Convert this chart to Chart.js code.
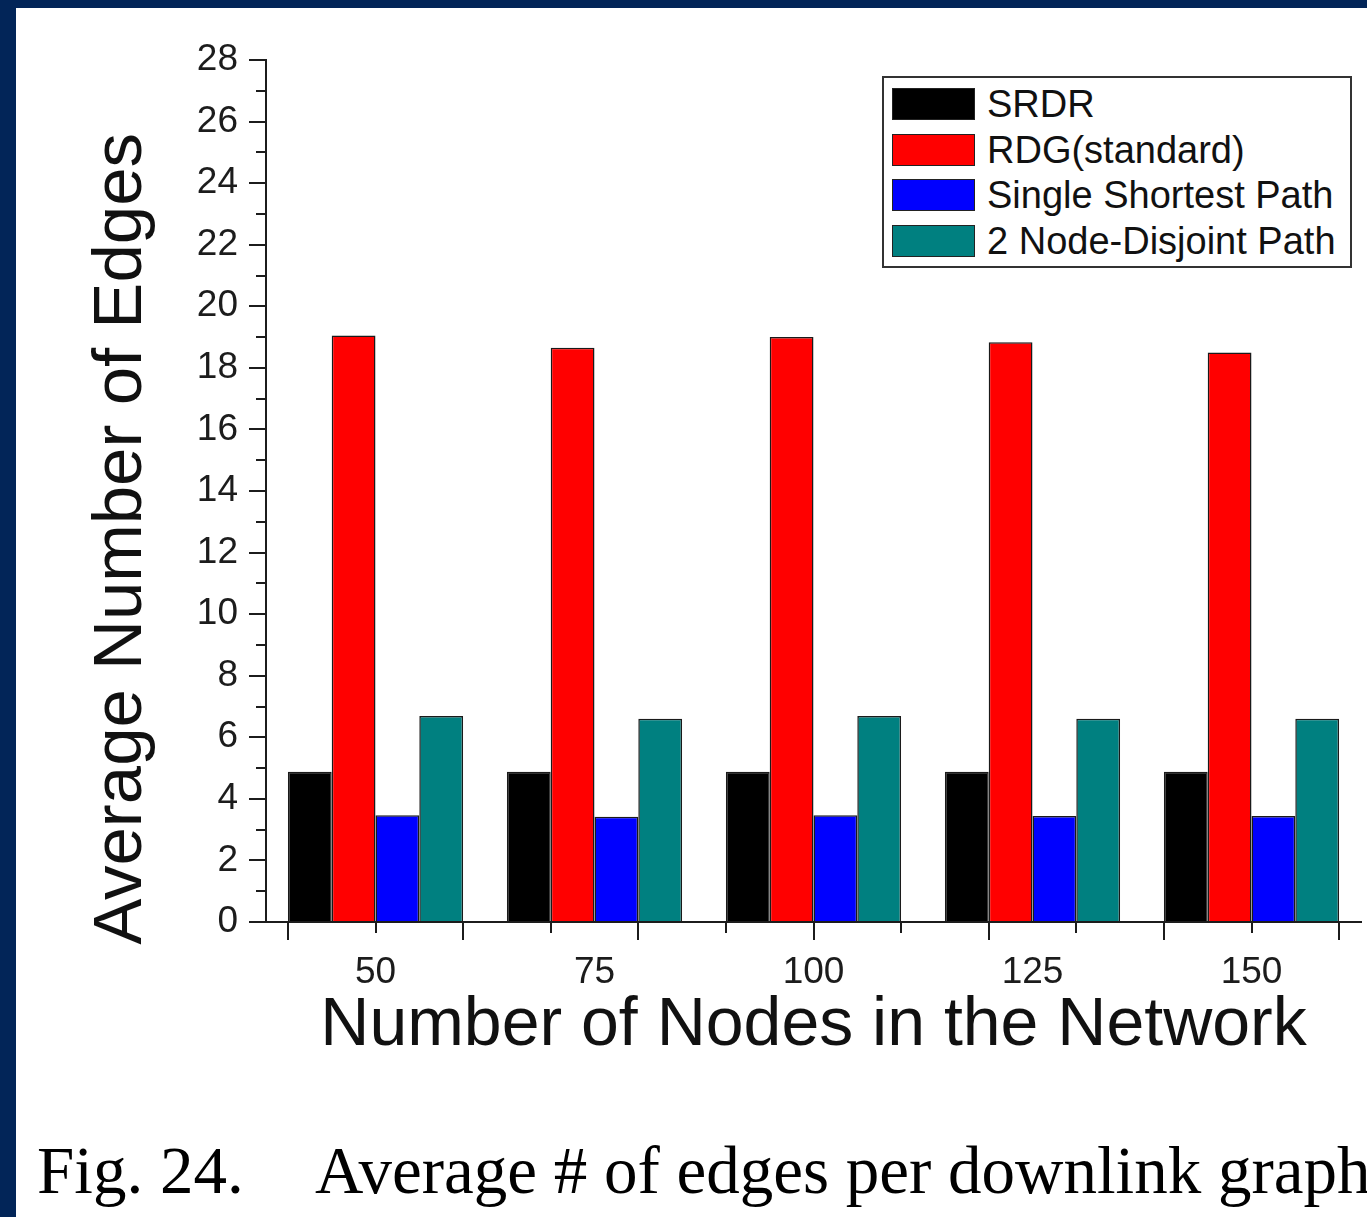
<!DOCTYPE html>
<html>
<head>
<meta charset="utf-8">
<title>Average number of edges per downlink graph</title>
<script src="https://cdn.jsdelivr.net/npm/chart.js@4/dist/chart.umd.min.js"></script>
<style>
  html, body { margin: 0; padding: 0; }
  body {
    width: 1367px; height: 1217px; overflow: hidden;
    background: #022558; position: relative;
  }
  #page {
    position: absolute; left: 16px; top: 8px; width: 1351px; height: 1209px;
    background: #ffffff; overflow: hidden;
  }
  #wrap { position: absolute; left: 0; top: 0; width: 1351px; height: 1080px; }
  #legend {
    position: absolute; left: 866px; top: 68px; width: 466px; height: 185px;
    border: 2px solid #333; background: #fff;
    font-family: 'Liberation Sans', Arial, sans-serif; font-size: 38px; color: #111;
    padding-top: 3px; box-sizing: content-box;
  }
  #legend .row { display: flex; align-items: center; height: 45.7px; }
  #legend .sw {
    width: 81px; height: 30px; margin-left: 8px; margin-right: 12px;
    border: 1px solid #222; flex: none;
  }
  #legend .lbl { white-space: nowrap; line-height: 1; }
  #caption {
    position: absolute; left: 21px; top: 1129px; white-space: nowrap;
    font-family: 'Liberation Serif', 'Times New Roman', serif; font-size: 67px;
    line-height: 67px; color: #000;
  }
  #caption .num { display: inline-block; width: 278px; }
</style>
</head>
<body>
<div id="page">
  <div id="wrap"><canvas id="chart"></canvas></div>
  <div id="legend"></div>
  <div id="caption"><span class="num">Fig. 24.</span>Average # of edges per downlink graph</div>
</div>
<script>
// Network sizes (x categories) and per-method average edge counts
const nodeCounts = [50, 75, 100, 125, 150];
const seriesNames = ['SRDR', 'RDG(standard)', 'Single Shortest Path', '2 Node-Disjoint Path'];
const srdrEdges = [4.88, 4.88, 4.88, 4.88, 4.88];
const rdgStandardEdges = [19.05, 18.65, 19.0, 18.83, 18.5];
const singleShortestEdges = [3.47, 3.42, 3.47, 3.44, 3.44];
const nodeDisjointEdges = [6.69, 6.6, 6.69, 6.6, 6.6];
const seriesColors = ['#000000', '#ff0000', '#0000ff', '#008080'];

// Axis ranges and tick spacing
const xRange = [37.5, 162.5];
const xMajorStep = 20;
const xMinorStep = 10;
const yRange = [0, 28];
const yMajorStep = 2;
const yMinorStep = 1;

const SANS = "'Liberation Sans', Arial, sans-serif";
const INK = '#1c1c1c';

const seriesValues = [srdrEdges, rdgStandardEdges, singleShortestEdges, nodeDisjointEdges];

const datasets = seriesNames.map((name, i) => ({
  label: name,
  data: seriesValues[i],
  backgroundColor: seriesColors[i],
  borderColor: '#1a1a1a',
  borderWidth: 1.5,
  categoryPercentage: 0.8,
  barPercentage: 1.0
}));

// Tick-mark-only bottom axes (long and short marks share the baseline)
const tickAxis = (step, length, extra) => Object.assign({
  type: 'linear',
  min: xRange[0],
  max: xRange[1],
  offset: false,
  position: 'bottom',
  weight: 0,
  grid: { offset: false, drawOnChartArea: false, drawTicks: true, tickLength: length,
          color: INK, lineWidth: 2, tickWidth: 2 },
  border: { display: false },
  ticks: { display: false, stepSize: step, includeBounds: false },
  afterFit: s => { s.height = 0; }
}, extra || {});

new Chart(document.getElementById('chart'), {
  type: 'bar',
  data: { labels: nodeCounts, datasets },
  options: {
    responsive: true,
    maintainAspectRatio: false,
    animation: false,
    layout: { padding: { top: 52, right: 6, bottom: 20, left: 0 } },
    plugins: { legend: { display: false }, tooltip: { enabled: false } },
    scales: {
      x: {
        type: 'linear',
        min: xRange[0],
        max: xRange[1],
        offset: false,
        position: 'bottom',
        weight: 1,
        grid: { display: false, offset: false },
        border: { display: false },
        ticks: {
          autoSkip: false,
          padding: 21,
          color: INK,
          font: { family: SANS, size: 37 },
          callback: v => String(v)
        },
        afterBuildTicks: s => { s.ticks = nodeCounts.map(v => ({ value: v })); },
        title: {
          display: true,
          text: 'Number of Nodes in the Network',
          color: '#111',
          font: { family: SANS, size: 68 },
          padding: { top: 0, bottom: 1 }
        },
        afterFit: s => { s.height = 146; }
      },
      xMajor: tickAxis(xMajorStep, 18, {
        border: { display: true, color: INK, width: 2 }
      }),
      xMinor: tickAxis(xMinorStep, 11),
      y: {
        type: 'linear',
        min: yRange[0],
        max: yRange[1],
        position: 'left',
        weight: 1,
        grid: { drawOnChartArea: false, drawTicks: true, tickLength: 17,
                color: INK, lineWidth: 2, tickWidth: 2 },
        border: { display: true, color: INK, width: 2 },
        ticks: {
          stepSize: yMajorStep,
          padding: 11,
          color: INK,
          font: { family: SANS, size: 37 }
        },
        title: {
          display: true,
          text: 'Average Number of Edges' + '\u00a0'.repeat(5),
          color: '#111',
          font: { family: SANS, size: 69 },
          padding: { top: 65, bottom: 0 }
        },
        afterFit: s => { s.width = 250; }
      },
      yMinor: {
        type: 'linear',
        min: yRange[0],
        max: yRange[1],
        position: 'left',
        weight: 0,
        grid: { drawOnChartArea: false, drawTicks: true, tickLength: 10,
                color: INK, lineWidth: 2, tickWidth: 2 },
        border: { display: false },
        ticks: { display: false, stepSize: yMinorStep },
        afterFit: s => { s.width = 0; }
      }
    }
  }
});

// Legend box listing each series with its fill colour
const legend = document.getElementById('legend');
seriesNames.forEach((name, i) => {
  const row = document.createElement('div');
  row.className = 'row';
  const sw = document.createElement('div');
  sw.className = 'sw';
  sw.style.background = seriesColors[i];
  const lbl = document.createElement('span');
  lbl.className = 'lbl';
  lbl.textContent = name;
  row.appendChild(sw);
  row.appendChild(lbl);
  legend.appendChild(row);
});
</script>
</body>
</html>
